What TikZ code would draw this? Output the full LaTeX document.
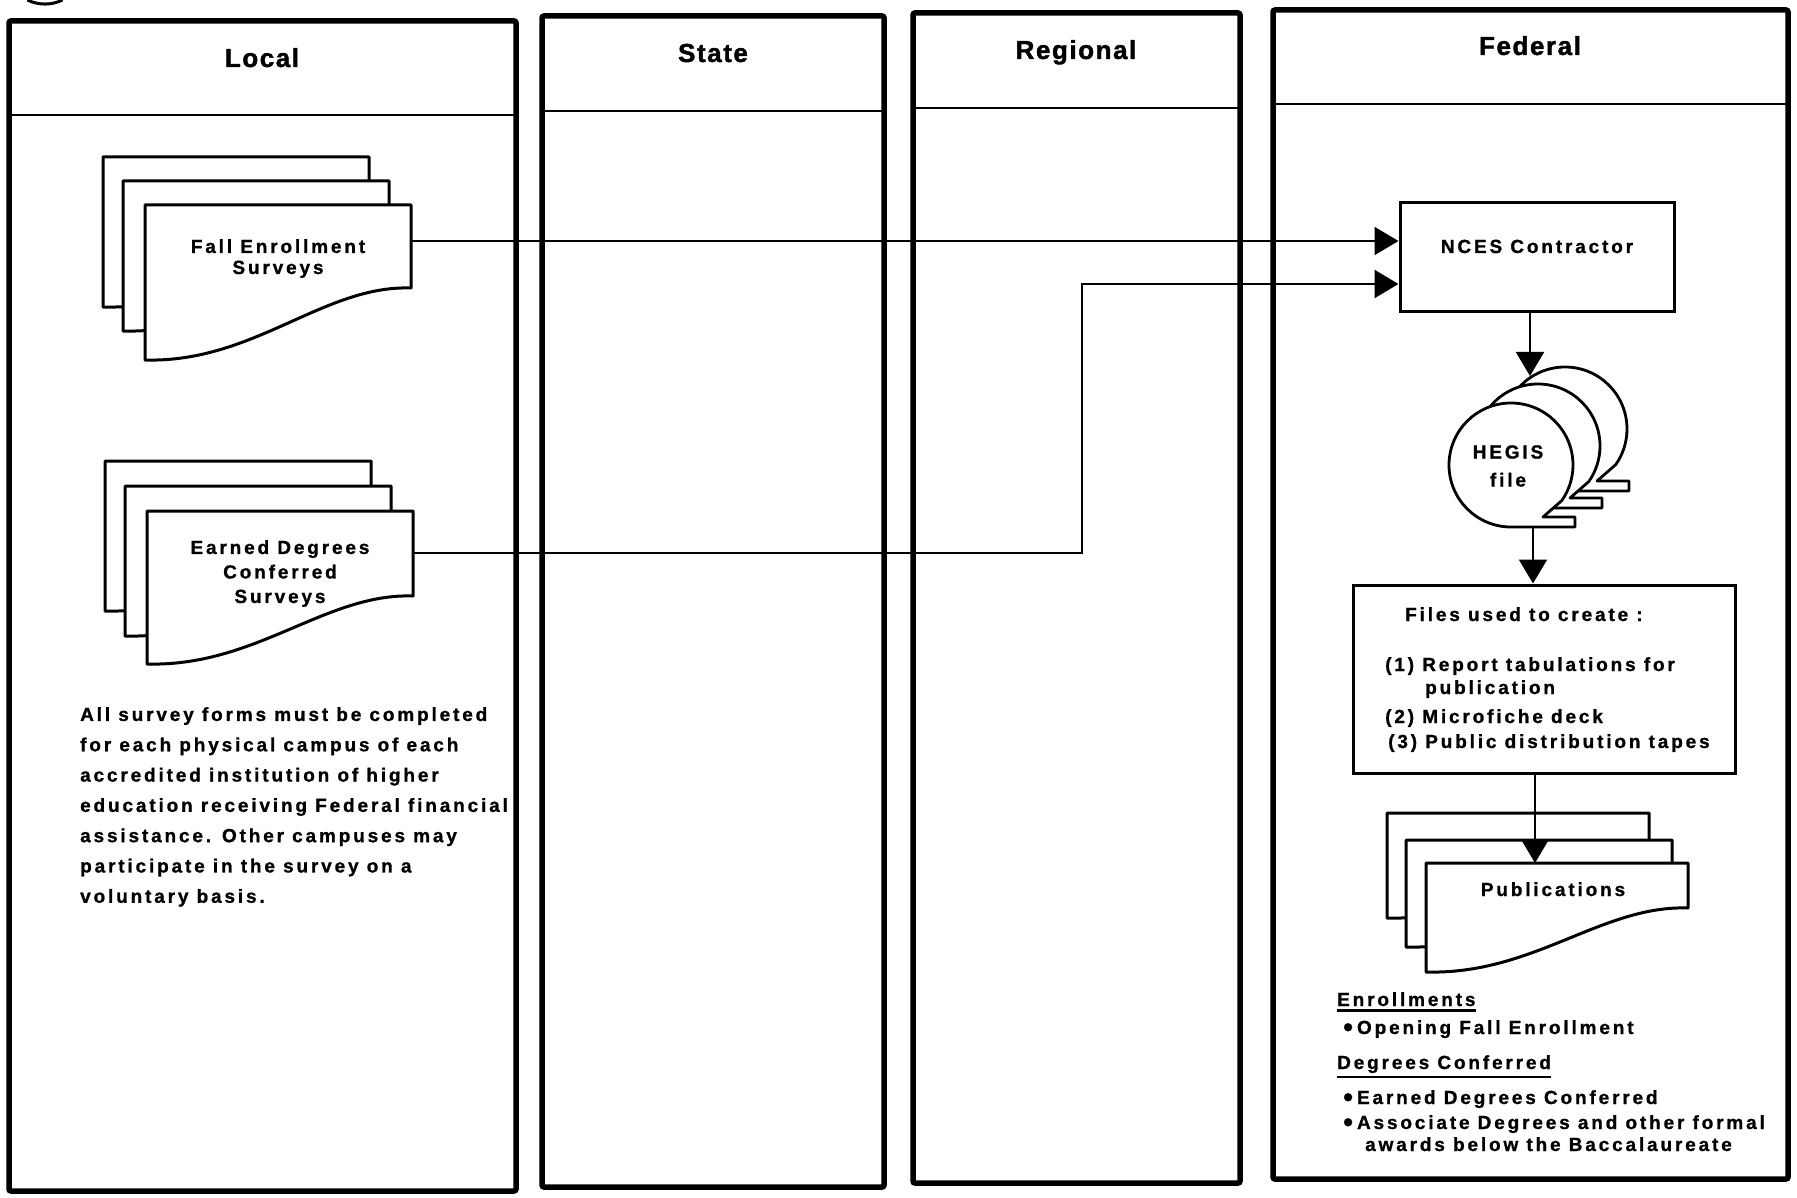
\documentclass[tikz,border=0pt]{standalone}
\usepackage{fontspec}
\usetikzlibrary{arrows.meta}
\newfontfamily\titlefont{Liberation Sans}[LetterSpace=6,FakeBold=1.5]
\newfontfamily\bodyfont{Liberation Sans}[LetterSpace=15,FakeBold=1]

\newcommand{\blt}{\raisebox{-2.5pt}{\fontsize{28}{28}\selectfont•}\hspace{4pt}}

\tikzset{
  % paper form with a wavy lower edge: width, height, height of right edge
  pics/docsheet/.style n args={3}{code={
    \draw[sheet] (0,0) -- (#1,0) -- (#1,#3)
      .. controls ({0.67*#1},{#3-3}) and ({0.41*#1},{#2+3}) .. (0,#2) -- cycle;
  }},
  % tape reel with its tail strip
  pics/tapereel/.style={code={
    \draw[reel] (0,62) arc[start angle=90, end angle=395, radius=62]
      -- (32,52) -- (64,52) -- (64,62) -- cycle;
  }},
}

\begin{document}
\begin{tikzpicture}[x=1pt,y=-1pt,
  lane/.style={draw, line width=5.5pt, rounded corners=2pt},
  lanerule/.style={line width=2.5pt},
  lanetitle/.style={font=\titlefont\bfseries\fontsize{26}{30}\selectfont, inner sep=0pt},
  txt/.style={font=\bodyfont\bfseries\fontsize{19}{23}\selectfont, inner sep=0pt},
  sheet/.style={draw, fill=white, line width=3pt, line join=round},
  box/.style={draw, line width=3pt, inner sep=0pt},
  conn/.style={line width=2pt},
  tip/.style={-{Triangle[length=24pt,width=28pt]}},
  reel/.style={draw, fill=white, line width=2.8pt, line join=round},
]
\useasboundingbox (0,0) rectangle (1797,1198);

% fragment of the circled figure mark at the top edge
\draw[line width=3pt] (62.5,0) arc[start angle=64, end angle=116, radius=40];

% swim lanes
\draw[lane] (9,21) rectangle (516,1191);
\draw[lanerule] (9,115) -- (516,115);
\draw[lane] (542,16) rectangle (884,1187);
\draw[lanerule] (542,111) -- (884,111);
\draw[lane] (913,13) rectangle (1240,1183);
\draw[lanerule] (913,108) -- (1240,108);
\draw[lane] (1273,10) rectangle (1788,1179);
\draw[lanerule] (1273,104) -- (1788,104);

\node[lanetitle, anchor=base] (tlocal) at (262,67) {Local};
\node[lanetitle, anchor=base] (tstate) at (713,62) {State};
\node[lanetitle, anchor=base] (tregional) at (1076,59) {Regional};
\node[lanetitle, anchor=base] (tfederal) at (1530,55) {Federal};

% survey forms (local)
\pic at (103,157) {docsheet={266}{150}{83}};
\pic at (123,181) {docsheet={266}{150}{83}};
\pic at (145,205) {docsheet={266}{155}{83}};
\node[txt, anchor=north, align=center, font=\bodyfont\bfseries\fontsize{19}{21}\selectfont]
  (falltext) at (278,239) {Fall Enrollment\\Surveys};

\pic at (105,461) {docsheet={266}{150}{85}};
\pic at (125,486) {docsheet={266}{150}{85}};
\pic at (147,511) {docsheet={266}{153}{85}};
\node[txt, anchor=north, align=center, font=\bodyfont\bfseries\fontsize{19}{24.5}\selectfont]
  (earntext) at (280,540) {Earned Degrees\\Conferred\\Surveys};

\node[txt, anchor=north west, align=left, font=\bodyfont\bfseries\fontsize{19}{30.3}\selectfont]
  (note) at (80,707) {All survey forms must be completed\\
  for each physical campus of each\\
  accredited institution of higher\\
  education receiving Federal financial\\
  assistance. Other campuses may\\
  participate in the survey on a\\
  voluntary basis.};

% federal processing
\node[box, minimum width=274pt, minimum height=109pt] (nces) at (1537,257.5) {};
\node[txt, anchor=base] (ncestext) at (1537,253) {NCES Contractor};

\coordinate (fallout) at (412,241);
\coordinate (earnout) at (414,553);
\coordinate (bend) at (1082,284);
\draw[conn, tip] (fallout) -- (fallout -| nces.west);
\draw[conn, tip] (earnout) -| (bend) -- (bend -| nces.west);

\pic at (1565,429) {tapereel};
\pic at (1538,446) {tapereel};
\pic at (1511,465) {tapereel};
\node[txt, align=center, font=\bodyfont\bfseries\fontsize{19}{28}\selectfont]
  (hegis) at (1508,466) {HEGIS\\file};

\coordinate (reelin) at (1530,376);
\draw[conn, tip] (reelin |- nces.south) -- (reelin);

\node[box, minimum width=382pt, minimum height=188pt] (files) at (1544,679) {};
\node[txt, anchor=base west] (ftitle) at (1405,621) {Files used to create :};
\node[txt, anchor=base west] (fone) at (1385,671) {(1) Report tabulations for};
\node[txt, anchor=base west] (foneb) at (1425,694) {publication};
\node[txt, anchor=base west] (ftwo) at (1385,723) {(2) Microfiche deck};
\node[txt, anchor=base west] (fthree) at (1388,748) {(3) Public distribution tapes};

\coordinate (reelout) at (1533,527);
\draw[conn, tip] (reelout) -- (reelout |- files.north);

\pic at (1387,813) {docsheet={262}{105}{45}};
\pic at (1406,840) {docsheet={266}{107}{45}};
\pic at (1426,863) {docsheet={262}{109}{45}};
\node[txt, anchor=base] (pubtext) at (1553,896) {Publications};

\coordinate (pubin) at (1535,863);
\draw[conn, tip] (pubin |- files.south) -- (pubin);

% survey list
\node[txt, anchor=base west] (enr) at (1337,1006) {Enrollments};
\draw[line width=2.5pt] ([yshift=-4pt]enr.south west) -- ([yshift=-4pt]enr.south east);
\node[txt, anchor=base west] (enrone) at (1343,1034) {\blt Opening Fall Enrollment};
\node[txt, anchor=base west] (deg) at (1337,1069) {Degrees Conferred};
\draw[line width=2.5pt] ([yshift=-4pt]deg.south west) -- ([yshift=-4pt]deg.south east);
\node[txt, anchor=base west] (degone) at (1343,1104) {\blt Earned Degrees Conferred};
\node[txt, anchor=base west] (degtwo) at (1343,1129) {\blt Associate Degrees and other formal};
\node[txt, anchor=base west] (degthree) at (1365,1151) {awards below the Baccalaureate};
\end{tikzpicture}
\end{document}
